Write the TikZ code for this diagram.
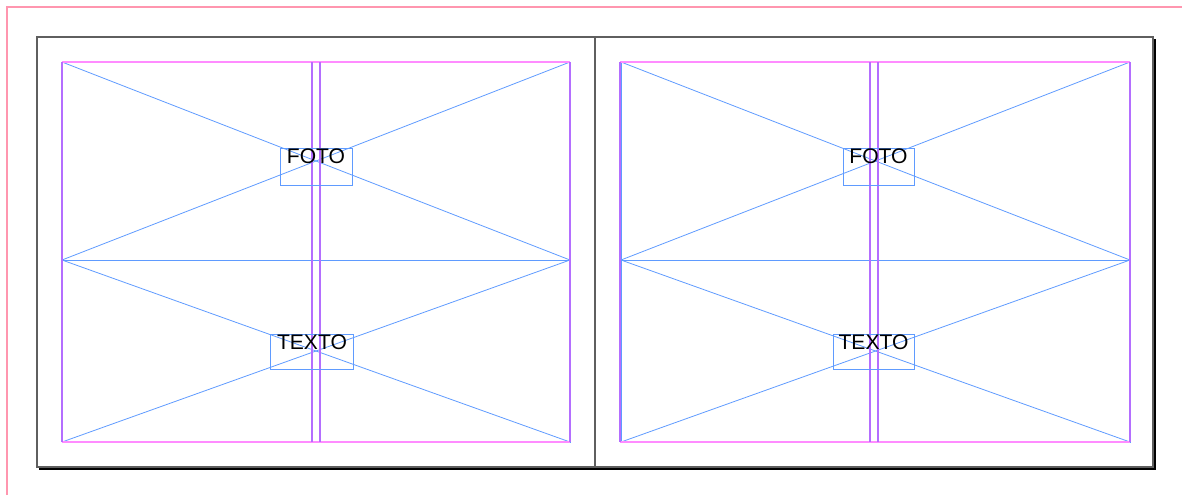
\documentclass[tikz,border=0pt]{standalone}
\usepackage{fontspec}
\setmainfont{Liberation Sans}
\usetikzlibrary{positioning,calc}

\definecolor{bleedpink}{RGB}{255,150,175}
\definecolor{pagegray}{RGB}{95,95,95}
\definecolor{marginmag}{RGB}{255,140,255}
\definecolor{colviolet}{RGB}{180,110,255}
\definecolor{frameblue}{RGB}{95,155,255}

\tikzset{
   bleed/.style     = {draw=bleedpink, line width=0.7pt},
   pageline/.style  = {draw=pagegray, line width=0.6pt},
   shadow/.style    = {draw=black, line width=1.5pt},
   margin/.style    = {draw=marginmag, line width=0.6pt},
   colguide/.style  = {draw=colviolet, line width=0.6pt},
   frame/.style     = {draw=frameblue, line width=0.45pt},
   tag/.style       = {font=\fontsize{12}{12}\selectfont, inner sep=0pt, anchor=north}
}

\begin{document}
\begin{tikzpicture}[x=0.02cm, y=-0.02cm]
   \useasboundingbox (0,0) rectangle (1182,495);

   % bleed guides
   \coordinate (b0) at (7,495);
   \coordinate (b1) at (7,7);
   \coordinate (b2) at (1182,7);
   \draw[bleed] (b0) -- (b1) -- (b2);

   % spread with drop shadow
   \coordinate (s0) at (37,37);
   \coordinate (s1) at (1153,467);
   \coordinate (sp0) at (595,37);
   \coordinate (sp1) at (595,467);
   \draw[shadow] (1155,39) -- (1155,469) -- (39,469);
   \draw[pageline, fill=white] (s0) rectangle (s1);
   \draw[pageline] (sp0) -- (sp1);

   %%%%%%%%%% left page
   % photo frame
   \coordinate (lf0) at (62,62);
   \coordinate (lf1) at (570,260);
   \draw[frame] (lf0) rectangle (lf1);
   \draw[frame] (lf0) -- (lf1);
   \draw[frame] (lf0 |- lf1) -- (lf1 |- lf0);
   % text frame
   \coordinate (lt0) at (62,260);
   \coordinate (lt1) at (570,442);
   \draw[frame] (lt0) rectangle (lt1);
   \draw[frame] (lt0) -- (lt1);
   \draw[frame] (lt0 |- lt1) -- (lt1 |- lt0);

   % margins and columns
   \draw[margin] (62,62) -- (570,62);
   \draw[margin] (62,442) -- (570,442);
   \draw[colguide] (62,62) -- (62,442);
   \draw[colguide] (570,62) -- (570,442);
   \draw[colguide] (312,62) -- (312,442);
   \draw[colguide] (320,62) -- (320,442);

   % labels
   \draw[frame] (280,148) rectangle (352,185);
   \node[tag] (lfoto) at (316,148.5) {FOTO};
   \draw[frame] (270,334) rectangle (353,369);
   \node[tag] (ltexto) at (312,334.5) {TEXTO};

   %%%%%%%%%% right page
   % photo frame
   \coordinate (rf0) at (621,62);
   \coordinate (rf1) at (1130,260);
   \draw[frame] (rf0) rectangle (rf1);
   \draw[frame] (rf0) -- (rf1);
   \draw[frame] (rf0 |- rf1) -- (rf1 |- rf0);
   % text frame
   \coordinate (rt0) at (621,260);
   \coordinate (rt1) at (1130,442);
   \draw[frame] (rt0) rectangle (rt1);
   \draw[frame] (rt0) -- (rt1);
   \draw[frame] (rt0 |- rt1) -- (rt1 |- rt0);

   % margins and columns
   \draw[margin] (620,62) -- (1130,62);
   \draw[margin] (620,442) -- (1130,442);
   \draw[colguide] (620,62) -- (620,442);
   \draw[colguide] (1130,62) -- (1130,442);
   \draw[colguide] (870,62) -- (870,442);
   \draw[colguide] (878,62) -- (878,442);

   % labels
   \draw[frame] (843,148) rectangle (914,185);
   \node[tag] (rfoto) at (878.5,148.5) {FOTO};
   \draw[frame] (833,334) rectangle (914,369);
   \node[tag] (rtexto) at (873.5,334.5) {TEXTO};

\end{tikzpicture}
\end{document}
